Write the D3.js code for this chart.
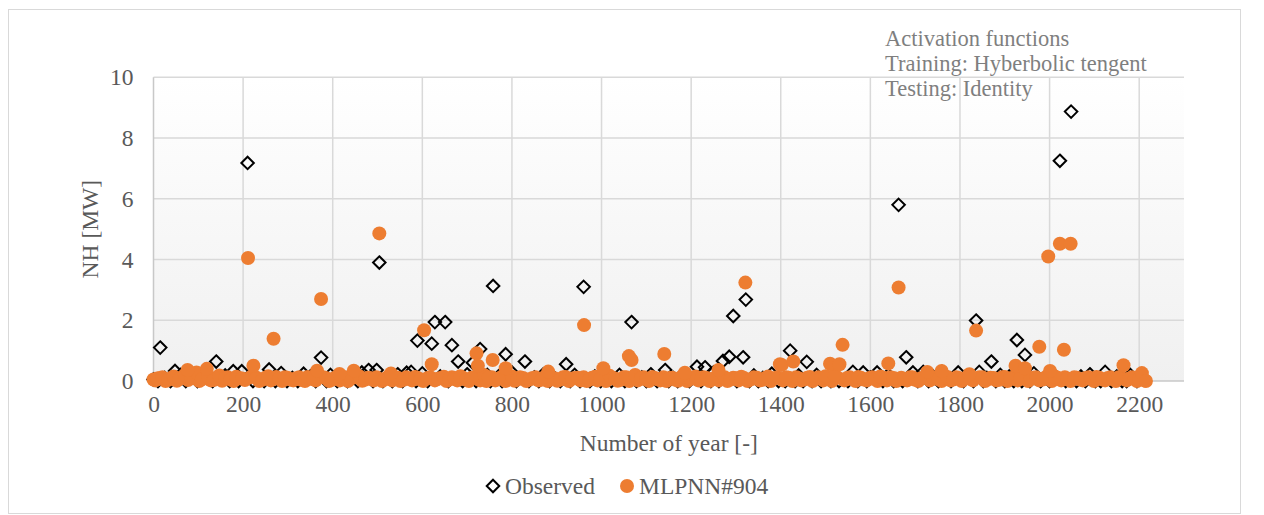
<!DOCTYPE html>
<html>
<head>
<meta charset="utf-8">
<script src="https://cdn.jsdelivr.net/npm/d3@7"></script>
<style>
  html, body { margin: 0; padding: 0; background: #ffffff; }
  svg { display: block; }
  text { font-family: "Liberation Serif", "Times New Roman", serif; }
</style>
</head>
<body>
<svg id="chart" width="1264" height="515"></svg>
<script>
// Axis ticks
const xTicks = [0, 200, 400, 600, 800, 1000, 1200, 1400, 1600, 1800, 2000, 2200];
const yTicks = [0, 2, 4, 6, 8, 10];

// Observed NH [MW]: notable years
const observedPeaks = [
  [15,1.1],[48,0.33],[140,0.64],[178,0.32],[197,0.32],[210,7.18],[258,0.38],[374,0.77],
  [480,0.36],[498,0.36],[504,3.9],[589,1.33],[621,1.23],[628,1.94],[651,1.94],[666,1.18],
  [680,0.64],[713,0.6],[729,1.05],[758,3.13],[786,0.88],[829,0.64],[921,0.55],[960,3.1],
  [1067,1.94],[1142,0.36],[1213,0.47],[1231,0.45],[1271,0.66],[1285,0.8],[1294,2.14],
  [1316,0.78],[1322,2.68],[1421,1.0],[1458,0.63],[1663,5.8],[1680,0.78],[1836,1.99],
  [1870,0.64],[1927,1.35],[1945,0.86],[2023,7.25],[2048,8.87]
];

// Observed NH [MW]: low-output years
const observedBase = [
  [0,0.05],[25,0.1],[60,0.2],[85,0.15],[110,0.24],[125,0.08],[160,0.18],[230,0.12],
  [285,0.26],[310,0.1],[335,0.24],[350,0.15],[395,0.2],[420,0.08],[445,0.18],[465,0.28],
  [520,0.12],[545,0.22],[565,0.27],[575,0.3],[600,0.25],[640,0.15],[700,0.22],[745,0.2],
  [770,0.15],[800,0.28],[850,0.12],[870,0.22],[895,0.1],[940,0.2],[985,0.15],[1010,0.25],
  [1040,0.2],[1090,0.12],[1110,0.22],[1160,0.1],[1180,0.2],[1250,0.28],[1340,0.18],
  [1360,0.1],[1380,0.24],[1440,0.18],[1480,0.2],[1500,0.12],[1561,0.3],[1584,0.28],
  [1600,0.12],[1615,0.28],[1640,0.2],[1695,0.28],[1718,0.3],[1740,0.15],[1760,0.3],
  [1796,0.28],[1820,0.12],[1843,0.3],[1860,0.1],[1890,0.2],[1910,0.15],[1965,0.25],
  [1990,0.12],[2010,0.2],[2070,0.15],[2090,0.22],[2124,0.3],[2150,0.15],[2180,0.2],[2210,0.08]
];

// Observed NH [MW]: years with no output
const observedZero = [
  [10,0],[38,0],[72,0],[98,0],[132,0],[170,0],[190,0],[222,0],[247,0],[272,0],[298,0],
  [322,0],[362,0],[386,0],[410,0],[433,0],[456,0],[490,0],[512,0],[533,0],[556,0],[586,0],
  [612,0],[658,0],[690,0],[720,0],[752,0],[778,0],[810,0],[838,0],[860,0],[884,0],[908,0],
  [930,0],[952,0],[974,0],[998,0],[1022,0],[1052,0],[1078,0],[1100,0],[1124,0],[1150,0],
  [1170,0],[1196,0],[1222,0],[1244,0],[1262,0],[1302,0],[1330,0],[1350,0],[1372,0],
  [1395,0],[1410,0],[1432,0],[1450,0],[1470,0],[1490,0],[1512,0],[1530,0],[1550,0],
  [1572,0],[1592,0],[1628,0],[1652,0],[1672,0],[1706,0],[1730,0],[1752,0],[1780,0],
  [1808,0],[1830,0],[1852,0],[1880,0],[1900,0],[1920,0],[1938,0],[1956,0],[1980,0],
  [2000,0],[2036,0],[2060,0],[2080,0],[2102,0],[2114,0],[2138,0],[2162,0],[2172,0],[2195,0]
];

// MLPNN#904 NH [MW]: notable years
const modelPeaks = [
  [76,0.36],[119,0.4],[211,4.05],[223,0.5],[268,1.39],[365,0.34],[374,2.7],[415,0.23],
  [447,0.34],[504,4.86],[530,0.25],[604,1.67],[621,0.55],[721,0.91],[724,0.5],[757,0.69],
  [786,0.42],[881,0.31],[961,1.84],[1004,0.42],[1061,0.82],[1067,0.69],[1140,0.89],
  [1186,0.27],[1261,0.36],[1321,3.24],[1398,0.55],[1402,0.53],[1428,0.64],[1510,0.57],
  [1531,0.55],[1538,1.19],[1640,0.58],[1663,3.08],[1727,0.3],[1759,0.33],[1821,0.22],
  [1836,1.66],[1924,0.5],[1945,0.42],[1977,1.13],[1997,4.1],[2001,0.33],[2023,4.52],
  [2032,1.03],[2047,4.52],[2165,0.52],[2206,0.26],[2215,0.0]
];

// MLPNN#904 NH [MW]: low-output years
const modelBase = [
  [0,0.05],[8,0.08],[20,0.12],[33,0.04],[45,0.15],[58,0.07],[70,0.2],[84,0.1],[96,0.28],
  [108,0.06],[122,0.13],[134,0.03],[147,0.18],[160,0.09],[172,0.05],[185,0.14],[198,0.08],
  [230,0.11],[243,0.04],[256,0.16],[280,0.07],[293,0.12],[306,0.05],[318,0.09],[331,0.03],
  [344,0.13],[356,0.06],[385,0.1],[398,0.04],[428,0.12],[440,0.07],[460,0.15],[473,0.05],
  [486,0.09],[516,0.06],[545,0.11],[558,0.04],[571,0.08],[584,0.13],[596,0.05],[612,0.1],
  [635,0.07],[648,0.14],[660,0.05],[672,0.09],[685,0.16],[698,0.04],[710,0.11],[738,0.2],
  [748,0.12],[770,0.08],[800,0.15],[812,0.05],[825,0.1],[840,0.06],[853,0.12],[866,0.04],
  [895,0.09],[908,0.05],[920,0.13],[934,0.07],[947,0.11],[973,0.05],[986,0.14],[997,0.06],
  [1018,0.17],[1030,0.08],[1043,0.04],[1055,0.12],[1075,0.2],[1088,0.09],[1100,0.05],
  [1113,0.13],[1125,0.06],[1152,0.1],[1165,0.04],[1177,0.12],[1198,0.07],[1210,0.15],
  [1222,0.05],[1235,0.1],[1248,0.06],[1275,0.12],[1288,0.05],[1300,0.09],[1312,0.14],
  [1334,0.06],[1347,0.11],[1360,0.04],[1372,0.15],[1385,0.08],[1412,0.12],[1440,0.09],
  [1452,0.05],[1465,0.13],[1478,0.07],[1490,0.1],[1500,0.16],[1520,0.2],[1548,0.1],
  [1560,0.06],[1573,0.13],[1585,0.05],[1598,0.1],[1610,0.07],[1622,0.15],[1652,0.1],
  [1675,0.06],[1688,0.12],[1700,0.04],[1713,0.09],[1740,0.11],[1752,0.06],[1772,0.13],
  [1785,0.05],[1798,0.1],[1810,0.07],[1850,0.12],[1862,0.06],[1875,0.1],[1888,0.04],
  [1900,0.13],[1912,0.08],[1935,0.1],[1958,0.07],[1970,0.12],[1985,0.05],[2012,0.15],
  [2040,0.08],[2055,0.12],[2068,0.05],[2080,0.1],[2093,0.07],[2105,0.13],[2118,0.05],
  [2130,0.1],[2142,0.06],[2154,0.12],[2178,0.08],[2190,0.1],[2200,0.06]
];

// MLPNN#904 NH [MW]: further low-output years
const modelBaseFill = [
  [4,0.02],[14,0.1],[27,0.0],[39,0.09],[52,0.01],[64,0.12],[77,0.03],[90,0.11],[102,0.0],
  [115,0.1],[128,0.02],[140,0.11],[153,0.01],[166,0.12],[179,0.0],[191,0.1],[204,0.03],
  [216,0.12],[236,0.0],[249,0.1],[262,0.02],[274,0.13],[287,0.0],[299,0.11],[312,0.02],
  [325,0.12],[338,0.0],[350,0.1],[362,0.02],[379,0.12],[392,0.0],[405,0.11],[416,0.02],
  [422,0.1],[434,0.0],[452,0.12],[466,0.01],[479,0.11],[492,0.02],[498,0.12],[510,0.0],
  [522,0.12],[533,0.02],[539,0.1],[551,0.0],[564,0.12],[577,0.02],[590,0.1],[602,0.0],
  [618,0.12],[628,0.02],[641,0.1],[654,0.0],[666,0.12],[678,0.02],[691,0.1],[704,0.0],
  [716,0.12],[729,0.02],[743,0.0],[755,0.12],[763,0.02],[776,0.12],[786,0.0],[793,0.1],
  [806,0.01],[818,0.12],[832,0.0],[846,0.1],[859,0.02],[872,0.12],[880,0.0],[888,0.1],
  [901,0.01],[914,0.12],[927,0.0],[940,0.1],[953,0.02],[960,0.12],[967,0.0],[979,0.11],
  [991,0.02],[1003,0.12],[1010,0.0],[1024,0.11],[1036,0.01],[1049,0.12],[1062,0.0],
  [1069,0.1],[1081,0.02],[1094,0.12],[1106,0.0],[1119,0.1],[1131,0.02],[1138,0.12],
  [1145,0.0],[1158,0.11],[1171,0.01],[1183,0.12],[1191,0.0],[1204,0.1],[1216,0.02],
  [1228,0.12],[1241,0.0],[1254,0.11],[1262,0.02],[1269,0.12],[1281,0.0],[1294,0.11],
  [1306,0.02],[1318,0.1],[1326,0.0],[1340,0.12],[1353,0.02],[1366,0.1],[1378,0.0],
  [1392,0.12],[1405,0.02],[1418,0.11],[1426,0.0],[1434,0.12],[1446,0.02],[1459,0.11],
  [1471,0.0],[1484,0.12],[1495,0.02],[1507,0.12],[1514,0.0],[1527,0.11],[1542,0.02],
  [1554,0.12],[1567,0.0],[1579,0.11],[1592,0.02],[1604,0.12],[1616,0.0],[1630,0.11],
  [1637,0.02],[1645,0.12],[1658,0.0],[1669,0.11],[1682,0.02],[1694,0.12],[1707,0.0],
  [1720,0.11],[1733,0.02],[1746,0.12],[1759,0.0],[1766,0.1],[1779,0.02],[1792,0.12],
  [1804,0.0],[1816,0.11],[1829,0.02],[1843,0.12],[1856,0.0],[1868,0.11],[1881,0.02],
  [1894,0.12],[1906,0.0],[1918,0.11],[1929,0.02],[1941,0.12],[1952,0.0],[1964,0.11],
  [1977,0.02],[1991,0.12],[2005,0.0],[2018,0.11],[2026,0.02],[2034,0.12],[2047,0.0],
  [2061,0.11],[2074,0.02],[2087,0.12],[2099,0.0],[2111,0.11],[2124,0.02],[2136,0.12],
  [2148,0.0],[2160,0.11],[2172,0.02],[2184,0.12],[2195,0.0],[2207,0.1],[2212,0.02]
];

const annotationLines = ["Activation functions", "Training: Hyberbolic tengent", "Testing: Identity"];

const svg = d3.select("#chart");
const plot = { left: 153.5, right: 1184, top: 77.3, bottom: 381 };
const fontSize = 23.5;
const textColor = "#595959";
const orange = "#ED7D31";
const serif = "Liberation Serif, Times New Roman, serif";

// Outer chart frame
svg.append("rect")
  .attr("x", 8.5).attr("y", 9.5).attr("width", 1232).attr("height", 504)
  .attr("fill", "#ffffff").attr("stroke", "#d9d9d9").attr("stroke-width", 1);

// Plot area background gradient
const defs = svg.append("defs");
const grad = defs.append("linearGradient").attr("id", "plotBg")
  .attr("x1", 0).attr("y1", 0).attr("x2", 0).attr("y2", 1);
grad.append("stop").attr("offset", "0%").attr("stop-color", "#ffffff");
grad.append("stop").attr("offset", "100%").attr("stop-color", "#f0f0f0");

const x = d3.scaleLinear().domain([0, 2300]).range([plot.left, plot.right]);
const y = d3.scaleLinear().domain([0, 10]).range([plot.bottom, plot.top]);

svg.append("rect")
  .attr("x", plot.left).attr("y", plot.top)
  .attr("width", plot.right - plot.left).attr("height", plot.bottom - plot.top)
  .attr("fill", "url(#plotBg)");

// Gridlines
const grid = svg.append("g");
grid.selectAll("line.v").data(x.ticks(12).filter(d => d > 0)).join("line")
  .attr("x1", d => x(d)).attr("x2", d => x(d))
  .attr("y1", plot.top).attr("y2", plot.bottom)
  .attr("stroke", "#d9d9d9").attr("stroke-width", 1.5);
grid.selectAll("line.h").data(yTicks.filter(d => d > 0)).join("line")
  .attr("x1", plot.left).attr("x2", plot.right)
  .attr("y1", d => y(d)).attr("y2", d => y(d))
  .attr("stroke", "#d9d9d9").attr("stroke-width", 1.5);

// Axes
const xAxis = d3.axisBottom(x).tickValues(xTicks).tickFormat(d3.format("d"))
  .tickSize(0).tickPadding(14);
const gx = svg.append("g").attr("transform", `translate(0,${plot.bottom})`).call(xAxis);
gx.select(".domain").attr("stroke", "#c8c8c8").attr("stroke-width", 1.5)
  .attr("d", `M${plot.left},0H${plot.right}`);
gx.selectAll("text").attr("font-size", fontSize).attr("fill", textColor)
  .attr("font-family", serif);

const yAxis = d3.axisLeft(y).tickValues(yTicks).tickFormat(d3.format("d"))
  .tickSize(0).tickPadding(20);
const gy = svg.append("g").attr("transform", `translate(${plot.left},0)`).call(yAxis);
gy.select(".domain").attr("stroke", "#c8c8c8").attr("stroke-width", 1.5)
  .attr("d", `M0,${plot.top}V${plot.bottom}`);
gy.selectAll("text").attr("font-size", fontSize).attr("fill", textColor)
  .attr("font-family", serif);

// Observed series: open diamonds
const diamond = d3.symbol().type(d3.symbolDiamond2).size(100);
const observed = observedZero.concat(observedBase, observedPeaks);
svg.append("g").selectAll("path").data(observed).join("path")
  .attr("d", diamond)
  .attr("transform", d => `translate(${x(d[0])},${y(d[1])})`)
  .attr("fill", "none").attr("stroke", "#000000").attr("stroke-width", 2);

// Model series: filled circles, drawn above observed
const model = modelBaseFill.concat(modelBase, modelPeaks);
svg.append("g").selectAll("circle").data(model).join("circle")
  .attr("cx", d => x(d[0])).attr("cy", d => y(d[1])).attr("r", 7)
  .attr("fill", orange);

// Axis titles
svg.append("text")
  .attr("x", (plot.left + plot.right) / 2).attr("y", 451)
  .attr("text-anchor", "middle").attr("font-size", fontSize).attr("fill", textColor)
  .text("Number of year [-]");
svg.append("text")
  .attr("transform", `translate(98,${(plot.top + plot.bottom) / 2}) rotate(-90)`)
  .attr("text-anchor", "middle").attr("font-size", fontSize).attr("fill", textColor)
  .text("NH [MW]");

// Annotation text
const note = svg.append("g");
note.selectAll("text").data(annotationLines).join("text")
  .attr("x", 885).attr("y", (d, i) => 46 + i * 25)
  .attr("font-size", 22.5).attr("fill", "#7f7f7f")
  .text(d => d);

// Legend
const legend = svg.append("g");
legend.append("path").attr("d", diamond)
  .attr("transform", "translate(493,486)")
  .attr("fill", "none").attr("stroke", "#000000").attr("stroke-width", 2);
legend.append("text").attr("x", 505).attr("y", 494)
  .attr("font-size", fontSize).attr("fill", textColor).text("Observed");
legend.append("circle").attr("cx", 627).attr("cy", 486).attr("r", 7).attr("fill", orange);
legend.append("text").attr("x", 639).attr("y", 494)
  .attr("font-size", fontSize).attr("fill", textColor).text("MLPNN#904");
</script>
</body>
</html>
